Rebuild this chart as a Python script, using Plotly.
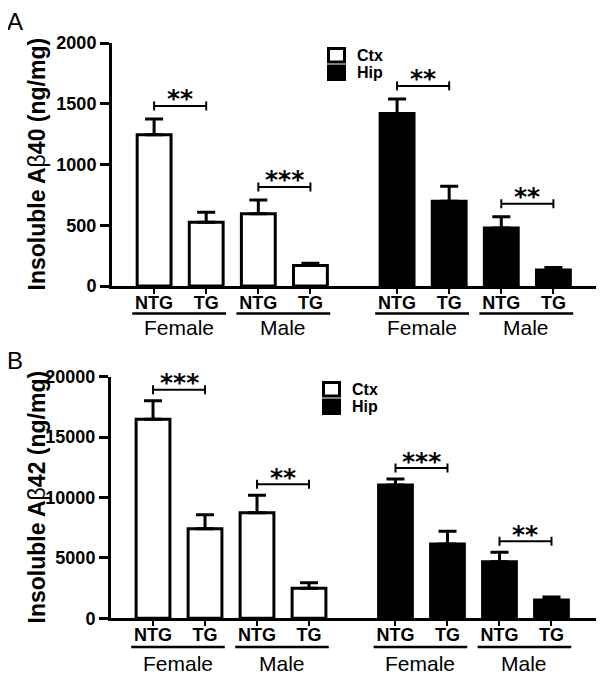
import plotly.graph_objects as go

# ---------------- data ----------------
categories = ["NTG", "TG", "NTG", "TG"]
sexes = ["Female", "Female", "Male", "Male"]
regions = ["Ctx", "Hip"]

a40_ctx = [1245, 525, 595, 168]
a40_ctx_sem = [130, 82, 113, 20]
a40_hip = [1420, 697, 477, 132]
a40_hip_sem = [120, 123, 93, 20]

a42_ctx = [16470, 7410, 8740, 2480]
a42_ctx_sem = [1540, 1160, 1440, 460]
a42_hip = [11030, 6150, 4680, 1510]
a42_hip_sem = [500, 1050, 780, 250]

# significance: (first bar index, second bar index, label)
a40_sig = [(0, 1, "**"), (2, 3, "***"), (4, 5, "**"), (6, 7, "**")]
a42_sig = [(0, 1, "***"), (2, 3, "**"), (4, 5, "***"), (6, 7, "**")]

a40_ticks = [0, 500, 1000, 1500, 2000]
a42_ticks = [0, 5000, 10000, 15000, 20000]

# ---------------- layout helpers ----------------
PAGE_OFF = 8                     # default body margin of the html page
W, H = 604 - PAGE_OFF, 684 - PAGE_OFF
FONT = "Liberation Sans, Arial, sans-serif"


def px(p):
    return (p - PAGE_OFF) / W


def py(p):
    return 1 - (p - PAGE_OFF) / H


GAP = 1.663
pos_ctx = [0, 1, 2, 3]
pos_hip = [3 + GAP + i for i in range(4)]
all_pos = pos_ctx + pos_hip
all_sex = sexes + sexes
XR = [-0.808, 7.663 + 0.856]
BARW = 0.65
FILLS = {"Ctx": "white", "Hip": "black"}

panels = [
    dict(ctx=a40_ctx, ctx_sem=a40_ctx_sem, hip=a40_hip, hip_sem=a40_hip_sem,
         sig=a40_sig, ticks=a40_ticks, ymax=2000, xd=(112, 598), yd=(286, 43),
         title="<b>Insoluble A</b>β<b>40 (ng/mg)</b>", letter="A", letter_y=21.5,
         leg=(327, 47), text_dx=28, offset_px=13, cat_line=313.5, sex_y=327),
    dict(ctx=a42_ctx, ctx_sem=a42_ctx_sem, hip=a42_hip, hip_sem=a42_hip_sem,
         sig=a42_sig, ticks=a42_ticks, ymax=20000, xd=(111, 596), yd=(618.3, 376.7),
         title="<b>Insoluble A</b>β<b>42 (ng/mg)</b>", letter="B", letter_y=361,
         leg=(322, 381), text_dx=28, offset_px=11, cat_line=647, sex_y=663),
]

fig = go.Figure()
shapes = []
annotations = []

for k, p in enumerate(panels):
    sfx = "" if k == 0 else str(k + 1)
    xref, yref = "x" + sfx, "y" + sfx
    for name, vals, sem, pos in [
        ("Ctx", p["ctx"], p["ctx_sem"], pos_ctx),
        ("Hip", p["hip"], p["hip_sem"], pos_hip),
    ]:
        fig.add_trace(go.Bar(
            x=pos, y=vals, name=name, width=BARW,
            marker=dict(color=FILLS[name], line=dict(color="black", width=3)),
            error_y=dict(type="data", symmetric=False, array=sem,
                         arrayminus=[0] * len(sem), thickness=3, width=9,
                         color="black"),
            xaxis=xref, yaxis=yref, showlegend=False,
        ))

    tops = [v + s for v, s in zip(p["ctx"] + p["hip"], p["ctx_sem"] + p["hip_sem"])]
    ypx = (p["yd"][0] - p["yd"][1]) / p["ymax"]
    for i, j, lab in p["sig"]:
        yb = max(tops[i], tops[j]) + p["offset_px"] / ypx
        shapes.append(dict(type="line", xref=xref, yref=yref, x0=all_pos[i], x1=all_pos[j],
                           y0=yb, y1=yb, line=dict(color="black", width=2)))
        for xx in (all_pos[i], all_pos[j]):
            shapes.append(dict(type="line", xref=xref, yref=yref, x0=xx, x1=xx,
                               ysizemode="pixel", yanchor=yb, y0=-4.5, y1=4.5,
                               line=dict(color="black", width=2)))
        annotations.append(dict(x=(all_pos[i] + all_pos[j]) / 2, y=yb, xref=xref, yref=yref,
                                text="<b>" + lab + "</b>", showarrow=False, yanchor="middle",
                                yshift=7, font=dict(family="DejaVu Sans", size=25, color="black")))

    # group underline + sex labels
    for g in range(4):
        x0 = all_pos[2 * g] - 0.42
        x1 = all_pos[2 * g + 1] + 0.38
        shapes.append(dict(type="line", xref=xref, yref="paper", x0=x0, x1=x1,
                           y0=py(p["cat_line"]), y1=py(p["cat_line"]),
                           line=dict(color="black", width=2.5)))
        annotations.append(dict(x=(x0 + x1) / 2, y=py(p["sex_y"]), xref=xref, yref="paper",
                                text=all_sex[2 * g], showarrow=False, yanchor="middle",
                                font=dict(family=FONT, size=21, color="black")))

    # legend (boxes + labels)
    lx, ly = p["leg"]
    for r, name in enumerate(regions):
        top = ly + r * 17.5
        shapes.append(dict(type="rect", xref="paper", yref="paper",
                           x0=px(lx + 1.5), x1=px(lx + 17.5),
                           y0=py(top + 1.5), y1=py(top + 15),
                           fillcolor=FILLS[name], line=dict(color="black", width=3)))
        annotations.append(dict(x=px(lx + p["text_dx"]), y=py(top + 8.2), xref="paper",
                                yref="paper", text="<b>" + name + "</b>", showarrow=False,
                                xanchor="left", yanchor="middle",
                                font=dict(family=FONT, size=16, color="black")))

    # y title
    annotations.append(dict(x=px(36), y=py((p["yd"][0] + p["yd"][1]) / 2), xref="paper",
                            yref="paper", text=p["title"], textangle=-90, showarrow=False,
                            xanchor="center", yanchor="middle",
                            font=dict(family=FONT, size=23, color="black")))
    # panel letter
    annotations.append(dict(x=px(5), y=py(p["letter_y"]), xref="paper", yref="paper",
                            text=p["letter"], showarrow=False, xanchor="left", yanchor="middle",
                            font=dict(family=FONT, size=24, color="black")))

    axis_common = dict(showgrid=False, zeroline=False, showline=True, linecolor="black",
                       linewidth=3, ticks="outside", tickcolor="black", automargin=False)
    fig.update_layout({
        "xaxis" + sfx: dict(axis_common, domain=[px(p["xd"][0]), px(p["xd"][1])], range=XR,
                            tickvals=all_pos,
                            ticktext=["<b>" + c + "</b>" for c in categories + categories],
                            ticklen=5, tickwidth=2, anchor=yref, ticklabelstandoff=-7,
                            tickfont=dict(family=FONT, size=18, color="black")),
        "yaxis" + sfx: dict(axis_common, domain=[py(p["yd"][0]), py(p["yd"][1])],
                            range=[0, p["ymax"]], tickvals=p["ticks"],
                            ticktext=["<b>%d</b>" % t for t in p["ticks"]],
                            ticklen=9, tickwidth=3, anchor=xref,
                            tickfont=dict(family=FONT, size=18, color="black")),
    })

fig.update_layout(
    width=W, height=H, margin=dict(l=0, r=0, t=0, b=0, pad=0, autoexpand=False),
    paper_bgcolor="white", plot_bgcolor="white", barmode="overlay",
    shapes=shapes, annotations=annotations, showlegend=False,
    font=dict(family=FONT, color="black"),
)

fig.write_html("out.html")
